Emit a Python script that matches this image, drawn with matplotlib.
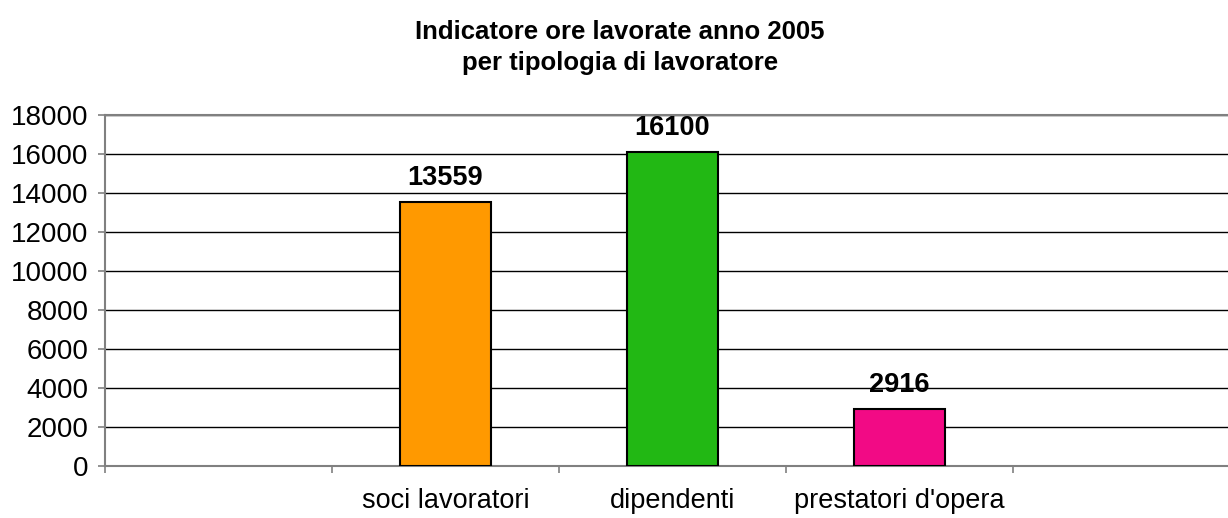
import numpy as np
import matplotlib.pyplot as plt

plt.rcParams['font.family'] = ['Liberation Sans', 'DejaVu Sans']

"""Data"""
categories = ['soci lavoratori', 'dipendenti', "prestatori d'opera"]
ore        = [13559, 16100, 2916]
colori     = ['#ff9900', '#22b814', '#f20a85']
y_ticks    = np.arange(0, 18001, 2000)

"""Figure"""
fig = plt.figure(figsize=(12.28, 5.18), dpi=100)
ax = fig.add_axes([105/1228, 52/518, 1135/1228, 351/518])

pos = np.arange(1, len(categories)+1)   # slots 0 and 4 stay empty
bars = ax.bar(pos, ore, width=0.4, color=colori, edgecolor='black', linewidth=1.5, zorder=3)
for b, v in zip(bars, ore):
    ax.text(b.get_x()+b.get_width()/2, v+560, str(v), ha='center', va='bottom',
            fontsize=19.5, fontweight='bold')

ax.set_xlim(-0.5, 4.5)
ax.set_ylim(0, 18000)
ax.set_yticks(y_ticks)
ax.set_xticks(pos)
ax.set_xticklabels(categories, fontsize=19.5)
ax.set_xticks(np.arange(-0.5, 4.6, 1), minor=True)
ax.tick_params(axis='x', which='major', length=0, pad=16)
ax.tick_params(axis='x', which='minor', length=5, color='#808080', width=1.2)
ax.tick_params(axis='y', labelsize=20, length=5, color='#808080', width=1.2, pad=7)
ax.yaxis.grid(True, color='black', linewidth=1.0, zorder=0)
ax.set_axisbelow(True)

for s in ['left', 'bottom', 'top']:
    ax.spines[s].set_color('#808080')
    ax.spines[s].set_linewidth(1.5)
ax.spines['right'].set_visible(False)

fig.text(0.505, 0.909, 'Indicatore ore lavorate anno 2005\nper tipologia di lavoratore',
         ha='center', va='center', fontsize=18.5, fontweight='bold', linespacing=1.38)

fig.savefig('out.png', dpi=100)
